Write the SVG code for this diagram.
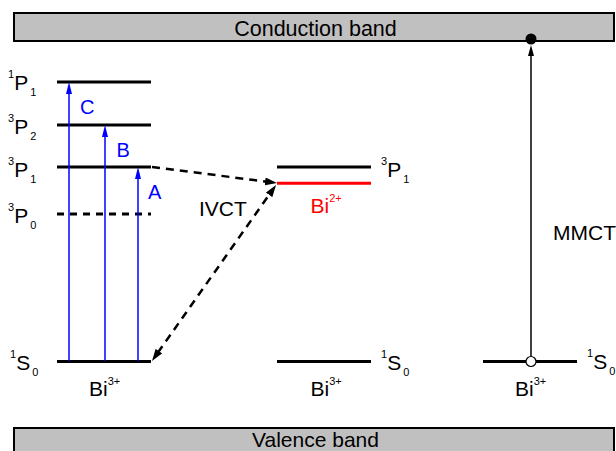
<svg xmlns="http://www.w3.org/2000/svg" width="616" height="451" viewBox="0 0 616 451">
<style>
text{font-family:"Liberation Sans",Arial,sans-serif;font-size:21px;fill:#000}
.s{font-size:11px}
.band{fill:#c0c0c0;stroke:#000;stroke-width:2}
.lvl{stroke:#000;stroke-width:3;fill:none}
.red{stroke:#f00}
.dash0{stroke-dasharray:7 6}
.blue{stroke:#00f;stroke-width:1.5;fill:none;marker-end:url(#bh)}
.ivct{stroke:#000;stroke-width:2.5;fill:none;stroke-dasharray:8 6}
.bl{fill:#00f;font-size:20px}
</style>
<defs>
<marker id="bh" viewBox="0 0 12 6" refX="2" refY="3" markerWidth="12" markerHeight="6" markerUnits="userSpaceOnUse" orient="auto"><path d="M0,0 L12,3 L0,6 z" fill="#00f"/></marker>
<marker id="kh" viewBox="0 0 12 8" refX="2" refY="4" markerWidth="12" markerHeight="8" markerUnits="userSpaceOnUse" orient="auto-start-reverse"><path d="M0,0 L12,4 L0,8 z" fill="#000"/></marker>
<marker id="mh" viewBox="0 0 11 6" refX="2" refY="3" markerWidth="11" markerHeight="6" markerUnits="userSpaceOnUse" orient="auto"><path d="M0,0 L11,3 L0,6 z" fill="#000"/></marker>
</defs>
<g id="conduction-band"><rect class="band" x="14" y="13" width="600" height="28"/><text x="315.5" y="36" text-anchor="middle" style="font-size:21.5px">Conduction band</text></g>
<g id="valence-band"><rect class="band" x="14" y="428" width="600" height="30"/><text x="315.5" y="446.5" text-anchor="middle" style="font-size:21px">Valence band</text></g>
<g id="bi3-left">
<line class="lvl" x1="57" y1="82" x2="151" y2="82"/>
<line class="lvl" x1="57" y1="125" x2="151" y2="125"/>
<line class="lvl" x1="57" y1="167" x2="151" y2="167"/>
<line class="lvl dash0" x1="57" y1="214" x2="151" y2="214"/>
<line class="lvl" x1="57" y1="361.5" x2="151" y2="361.5"/>
<text x="8" y="90"><tspan class="s" dy="-12">1</tspan><tspan dy="12">P</tspan><tspan class="s" dx="2" dy="6">1</tspan></text>
<text x="8" y="134"><tspan class="s" dy="-12">3</tspan><tspan dy="12">P</tspan><tspan class="s" dx="2" dy="6">2</tspan></text>
<text x="8" y="177"><tspan class="s" dy="-12">3</tspan><tspan dy="12">P</tspan><tspan class="s" dx="2" dy="6">1</tspan></text>
<text x="8" y="223"><tspan class="s" dy="-12">3</tspan><tspan dy="12">P</tspan><tspan class="s" dx="2" dy="6">0</tspan></text>
<text x="10" y="370"><tspan class="s" dy="-12">1</tspan><tspan dy="12">S</tspan><tspan class="s" dx="2" dy="6">0</tspan></text>
<text x="89" y="396">Bi<tspan class="s" dy="-11">3+</tspan></text>
</g>
<g id="bi2-middle">
<line class="lvl" x1="277" y1="167" x2="371" y2="167"/>
<line class="lvl red" x1="277" y1="183.3" x2="371" y2="183.3"/>
<line class="lvl" x1="277" y1="361.5" x2="371" y2="361.5"/>
<text x="381" y="177"><tspan class="s" dy="-12">3</tspan><tspan dy="12">P</tspan><tspan class="s" dx="2" dy="6">1</tspan></text>
<text x="381" y="370"><tspan class="s" dy="-12">1</tspan><tspan dy="12">S</tspan><tspan class="s" dx="2" dy="6">0</tspan></text>
<text x="310.5" y="213" style="fill:#f00">Bi<tspan class="s" style="fill:#f00" dy="-11">2+</tspan></text>
<text x="310.5" y="396">Bi<tspan class="s" dy="-11">3+</tspan></text>
</g>
<g id="bi3-right">
<line class="lvl" x1="483" y1="361.5" x2="577" y2="361.5"/>
<text x="587" y="369"><tspan class="s" dy="-12">1</tspan><tspan dy="12">S</tspan><tspan class="s" dx="2" dy="6">0</tspan></text>
<text x="515" y="396">Bi<tspan class="s" dy="-11">3+</tspan></text>
</g>
<g id="connectors">
<line class="blue" x1="69" y1="361" x2="69" y2="92"/>
<line class="blue" x1="105" y1="361" x2="105" y2="135"/>
<line class="blue" x1="138" y1="361" x2="138" y2="177"/>
<text class="bl" x="80" y="114">C</text>
<text class="bl" x="116.5" y="157">B</text>
<text class="bl" x="148" y="199">A</text>
<line class="ivct" x1="152" y1="167" x2="267.1" y2="181.7" marker-end="url(#kh)"/>
<line class="ivct" x1="157.75" y1="352.8" x2="270.25" y2="193.2" marker-start="url(#kh)" marker-end="url(#kh)"/>
<text x="199" y="216">IVCT</text>
<line x1="531" y1="356.5" x2="531" y2="54" stroke="#000" stroke-width="1.5" marker-end="url(#mh)"/>
<circle cx="531" cy="39" r="5.5" fill="#000"/>
<circle cx="531" cy="361.5" r="5" fill="#fff" stroke="#000" stroke-width="1.2"/>
<text x="553" y="240">MMCT</text>
</g>
</svg>
